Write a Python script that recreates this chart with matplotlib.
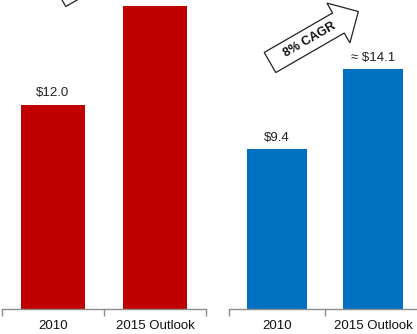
import numpy as np
import matplotlib
matplotlib.use("Agg")
import matplotlib.pyplot as plt
from matplotlib.patches import Polygon

plt.rcParams['font.family'] = ['Liberation Sans', 'DejaVu Sans']

categories = ["2010", "2015 Outlook"]
left_values = [12.0, 17.8]
left_labels = ["$12.0", None]
right_values = [9.4, 14.1]
right_labels = ["$9.4", "\u2248 $14.1"]
arrow_text = "8% CAGR"

W, H = 417, 334
fig = plt.figure(figsize=(W / 100, H / 100), dpi=100)

ymax = 309 / 17.0
bottom = (H - 309) / H
height = 309 / H


def panel(x0, x1, values, labels, color):
    ax = fig.add_axes([x0 / W, bottom, (x1 - x0) / W, height])
    x = np.arange(len(categories))
    ax.bar(x, values, width=0.62, color=color, zorder=2)
    ax.set_xlim(-0.5, len(categories) - 0.5)
    ax.set_ylim(0, ymax)
    for xi, v, lab in zip(x, values, labels):
        if lab:
            ax.annotate(lab, (xi, v), xytext=(0, 4), textcoords="offset points",
                        ha="center", va="bottom", fontsize=9.5, color="#222222")
    for s in ["top", "right", "left"]:
        ax.spines[s].set_visible(False)
    ax.spines["bottom"].set_color("#8c8c8c")
    ax.spines["bottom"].set_linewidth(1.0)
    ax.set_yticks([])
    ax.set_xticks(x)
    ax.set_xticklabels(categories, fontsize=9.5, color="#111111")
    ax.tick_params(axis="x", which="major", length=0, pad=8)
    ax.set_xticks(np.arange(-0.5, len(categories)), minor=True)
    ax.tick_params(axis="x", which="minor", length=5, color="#8c8c8c", width=1)
    return ax


panel(2, 206, left_values, left_labels, "#C00000")
panel(229, 421, right_values, right_labels, "#0070C0")

# block arrows (decorative), defined in pixel space (image coords, y down)
ANG = 30
ang = np.deg2rad(ANG)
u = np.array([np.cos(ang), -np.sin(ang)])
n = np.array([np.sin(ang), np.cos(ang)])
local = [(0, -11.6), (79, -11.6), (79, -23), (102, 0), (79, 23), (79, 11.6), (0, 11.6)]


def draw_arrow(tail, text=None):
    pts = []
    for a, b in local:
        p = np.array(tail) + a * u + b * n
        pts.append((p[0] / W, (H - p[1]) / H))
    poly = Polygon(pts, closed=True, facecolor="white", edgecolor="#222222",
                   linewidth=0.9, transform=fig.transFigure, clip_on=False)
    fig.add_artist(poly)
    if text:
        c = np.array(tail) + 46 * u
        fig.text(c[0] / W, (H - c[1]) / H, text, rotation=ANG, ha="center",
                 va="center", fontsize=9, fontweight="bold", color="#111111",
                 rotation_mode="anchor")


draw_arrow((270, 62.5), arrow_text)
draw_arrow((60, -3.5))

fig.savefig("out.png", dpi=100)
